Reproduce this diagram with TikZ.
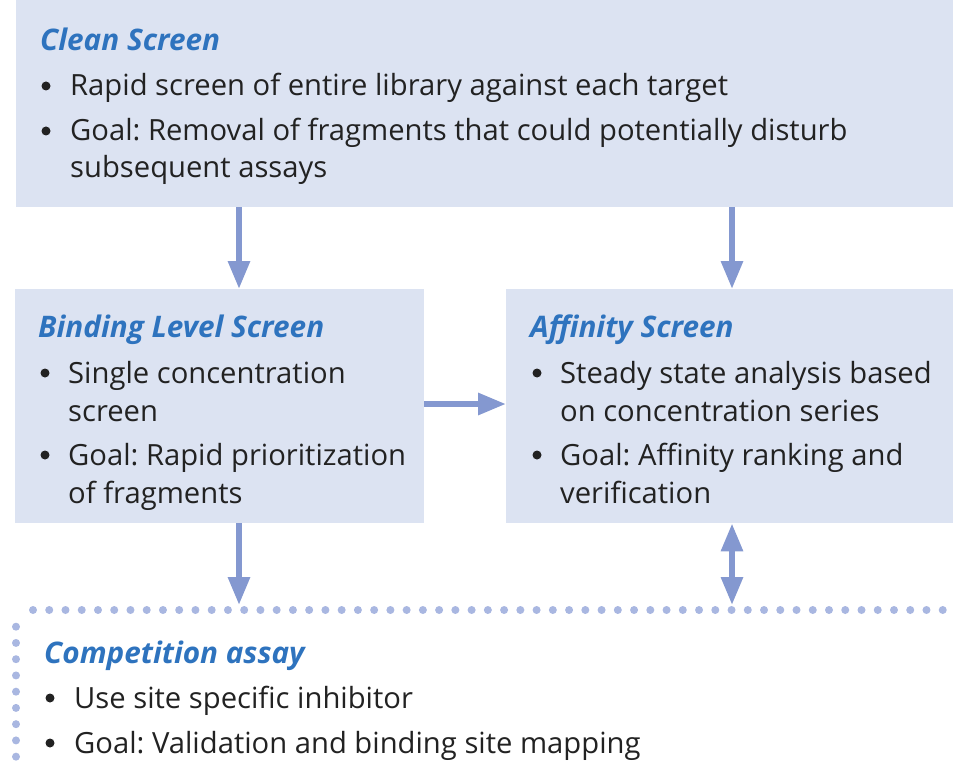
\documentclass[tikz,border=0pt]{standalone}
\usepackage{fontspec}
\setmainfont{Open Sans}
\usetikzlibrary{arrows.meta}
\definecolor{boxfill}{HTML}{DCE3F2}
\definecolor{arrowc}{HTML}{8498D0}
\definecolor{dotc}{HTML}{A9B7E1}
\definecolor{titlec}{HTML}{2E73BE}
\definecolor{textc}{HTML}{222222}
\frenchspacing
\begin{document}
\begin{tikzpicture}[x=1pt,y=-1pt,
  panel/.style={fill=boxfill,draw=none,inner sep=0pt,anchor=north west},
  ttl/.style={anchor=base west,inner sep=0pt,text=titlec,font=\fontsize{29.7}{34}\selectfont\bfseries\itshape},
  txt/.style={anchor=base west,inner sep=0pt,text=textc,font=\fontsize{29.2}{34}\selectfont},
  bul/.style={circle,fill=textc,inner sep=0pt,minimum size=9pt},
  flow/.style={draw=arrowc,line width=6pt,-{Triangle[length=28pt,width=21pt]}},
  flowboth/.style={draw=arrowc,line width=6pt,{Triangle[length=28pt,width=21pt]}-{Triangle[length=28pt,width=21pt]}},
  dots/.style={draw=dotc,line width=8pt,line cap=round,dash pattern=on 0pt off 16.245pt}]
\useasboundingbox (0,0) rectangle (953,765);
% boxes
\node[panel,minimum width=937pt,minimum height=207pt] (clean) at (16,0) {};
\node[panel,minimum width=409pt,minimum height=234pt] (bind) at (15,289) {};
\node[panel,minimum width=447pt,minimum height=234pt] (aff) at (506,289) {};
% competition region (dotted)
\coordinate (comp) at (239,605);
\coordinate (compR) at (732,605);
\draw[dots] (33,610) -- (960,610);
\draw[dots] (16,626.7) -- (16,790);
% clean text
\node[ttl] (cleanT) at (40,51) {Clean Screen};
\node[bul] (cb1) at (46,86) {};
\node[txt] (ct1) at (70,96) {Rapid screen of entire library against each target};
\node[bul] (cb2) at (46,131) {};
\node[txt] (ct2) at (70,141) {Goal: Removal of fragments that could potentially disturb};
\node[txt] (ct3) at (70,177) {subsequent assays};
% binding text
\node[ttl] (bindT) at (38,337) {Binding Level Screen};
\node[bul] (bb1) at (45,373) {};
\node[txt] (bt1) at (68,383) {Single concentration};
\node[txt] (bt2) at (68,421) {screen};
\node[bul] (bb2) at (45,455) {};
\node[txt] (bt3) at (68,465) {Goal: Rapid prioritization};
\node[txt] (bt4) at (68,503) {of fragments};
% affinity text
\node[ttl] (affT) at (530,337) {Affinity Screen};
\node[bul] (ab1) at (537,373) {};
\node[txt] (at1) at (560,383) {Steady state analysis based};
\node[txt] (at2) at (560,421) {on concentration series};
\node[bul] (ab2) at (537,455) {};
\node[txt] (at3) at (560,465) {Goal: Affinity ranking and};
\node[txt] (at4) at (560,503) {verification};
% competition text
\node[ttl] (compT) at (44,663) {Competition assay};
\node[bul] (pb1) at (50,698) {};
\node[txt] (pt1) at (74,708) {Use site specific inhibitor};
\node[bul] (pb2) at (50,743) {};
\node[txt] (pt2) at (74,753) {Goal: Validation and binding site mapping};
% arrows
\draw[flow] (clean.south -| 239,0) -- (bind.north -| 239,0);
\draw[flow] (clean.south -| 732,0) -- (aff.north -| 732,0);
\draw[flow] (bind.east |- 0,404) -- (aff.west |- 0,404);
\draw[flow] (bind.south -| 239,0) -- (comp);
\draw[flowboth] (aff.south -| 732,0) -- (compR);
\end{tikzpicture}
\end{document}
